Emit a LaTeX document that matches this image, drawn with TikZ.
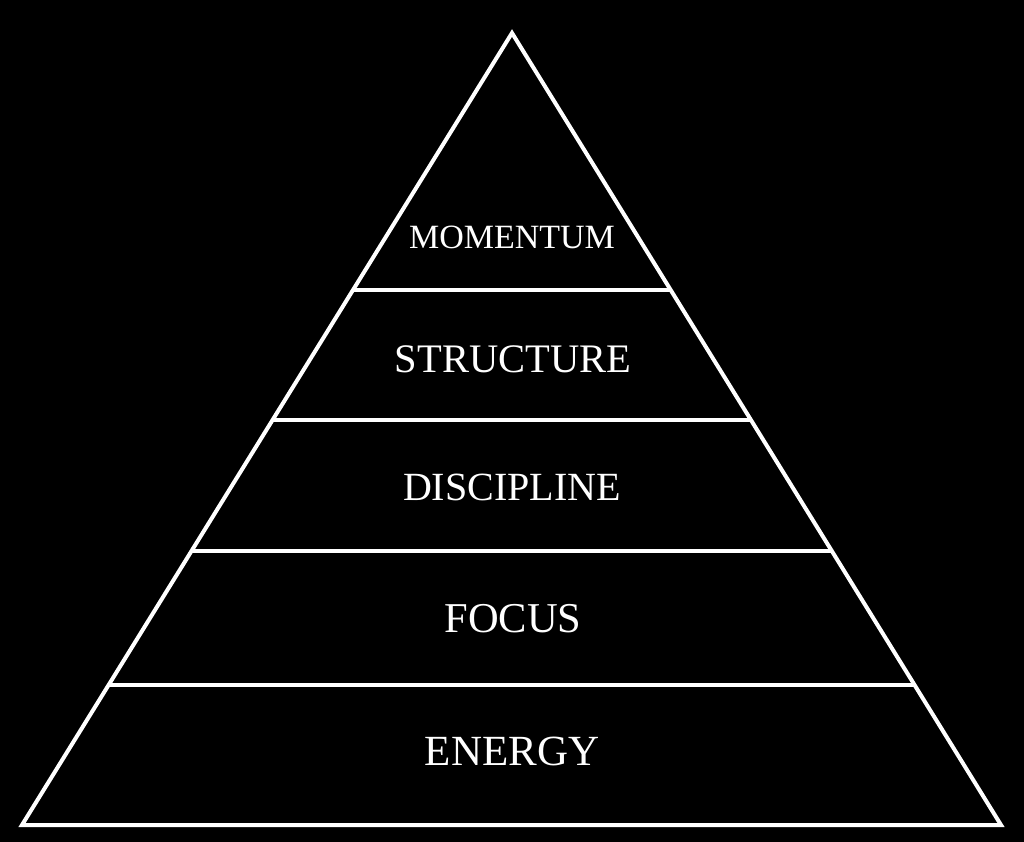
\documentclass[tikz,border=0pt]{standalone}
\usepackage{fontspec}
\setmainfont{Liberation Serif}
\usetikzlibrary{calc}
\begin{document}
\begin{tikzpicture}[x=1pt,y=-1pt,
  edge/.style={draw=white,line width=4pt,line join=miter},
  tier/.style={draw=white,line width=3.5pt},
  lbl/.style={text=white,inner sep=0pt,anchor=center}]
\fill[black] (0,0) rectangle (1024,842);
\useasboundingbox (0,0) rectangle (1024,842);
\coordinate (L) at (22,825);
\coordinate (A) at (512,33);
\coordinate (R) at (1001,825);
\draw[edge] (L) -- (A) -- (R) -- cycle;
\foreach \y/\n in {290/a,420/b,551/c,685/d}{
  \coordinate (l\n) at ($(L)!{(825-\y)/792}!(A)$);
  \coordinate (r\n) at ($(R)!{(825-\y)/792}!(A)$);
  \draw[tier] (l\n) -- (r\n);
}
\node[lbl,font=\fontsize{34}{40}\selectfont] (momentum) at (512,237) {MOMENTUM};
\node[lbl,font=\fontsize{40.5}{48}\selectfont] (structure) at (513,359) {STRUCTURE};
\node[lbl,font=\fontsize{40}{48}\selectfont] (discipline) at (512,487) {DISCIPLINE};
\node[lbl,font=\fontsize{42.5}{50}\selectfont] (focus) at (513,619) {FOCUS};
\node[lbl,font=\fontsize{43}{50}\selectfont] (energy) at (512,751) {ENERGY};
\end{tikzpicture}
\end{document}
